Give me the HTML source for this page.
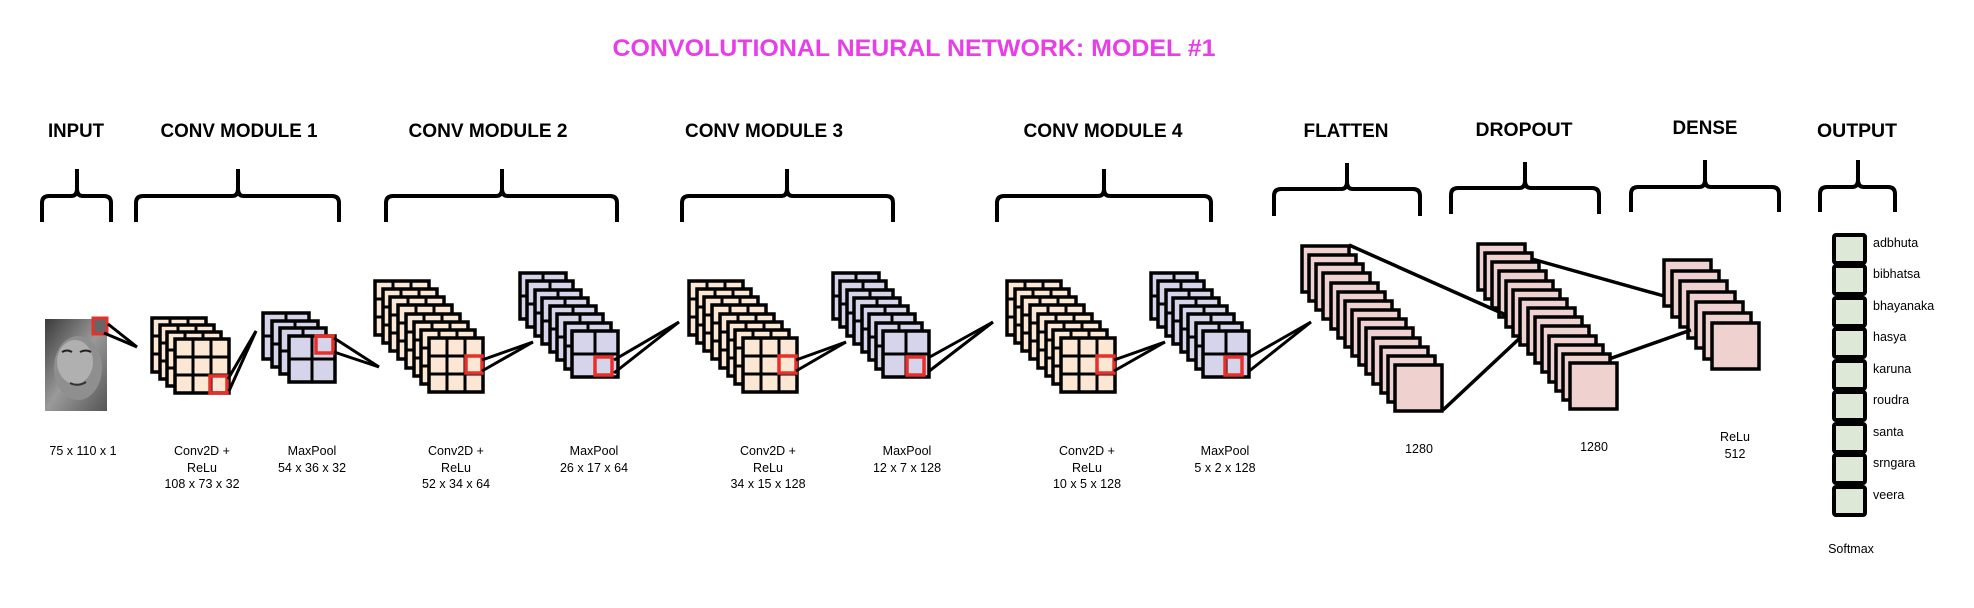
<!DOCTYPE html>
<html><head><meta charset="utf-8"><style>
html,body{margin:0;padding:0;background:#fff;width:1974px;height:608px;overflow:hidden}
svg{display:block}
text{font-family:"Liberation Sans",Arial,sans-serif}
</style></head><body>
<svg width="1974" height="608" viewBox="0 0 1974 608" xmlns="http://www.w3.org/2000/svg">
<defs>
<symbol id="cv" overflow="visible"><rect x="0" y="0" width="54" height="54" fill="#fbe7d3" stroke="#000" stroke-width="3.5"/><path d="M18 0V54M36 0V54M0 18H54M0 36H54" stroke="#000" stroke-width="3"/></symbol>
<symbol id="pl" overflow="visible"><rect x="0" y="0" width="46" height="46" fill="#d6d4ea" stroke="#000" stroke-width="3.5"/><path d="M23 0V46M0 23H46" stroke="#000" stroke-width="3"/></symbol>
<symbol id="pk" overflow="visible"><rect x="0" y="0" width="47" height="46" fill="#efd1d0" stroke="#000" stroke-width="3.5"/></symbol>
<symbol id="gr" overflow="visible"><rect x="0" y="0" width="31" height="28" rx="2" fill="#dde8d6" stroke="#000" stroke-width="4"/></symbol>
<linearGradient id="fg" x1="0" y1="0" x2="1" y2="1"><stop offset="0" stop-color="#3a3a3a"/><stop offset="0.5" stop-color="#9a9a9a"/><stop offset="1" stop-color="#555"/></linearGradient>
</defs>

<text x="914" y="56" text-anchor="middle" font-size="24" font-weight="bold" fill="#e83ee8" textLength="603" lengthAdjust="spacingAndGlyphs">CONVOLUTIONAL NEURAL NETWORK: MODEL  #1</text>

<g font-size="19" font-weight="bold" fill="#000" text-anchor="middle">
<text x="76" y="137" textLength="56" lengthAdjust="spacingAndGlyphs">INPUT</text>
<text x="239" y="137" textLength="157" lengthAdjust="spacingAndGlyphs">CONV MODULE 1</text>
<text x="488" y="137" textLength="159" lengthAdjust="spacingAndGlyphs">CONV MODULE 2</text>
<text x="764" y="137" textLength="158" lengthAdjust="spacingAndGlyphs">CONV MODULE 3</text>
<text x="1103" y="137" textLength="159" lengthAdjust="spacingAndGlyphs">CONV MODULE 4</text>
<text x="1346" y="137" textLength="85" lengthAdjust="spacingAndGlyphs">FLATTEN</text>
<text x="1524" y="136" textLength="97" lengthAdjust="spacingAndGlyphs">DROPOUT</text>
<text x="1705" y="134" textLength="65" lengthAdjust="spacingAndGlyphs">DENSE</text>
<text x="1857" y="137" textLength="80" lengthAdjust="spacingAndGlyphs">OUTPUT</text>
</g>

<g fill="none" stroke="#000" stroke-width="4">
<path d="M42 222V203Q42 196 49 196H71Q77 196 77 189V169M77 189Q77 196 83 196H104Q111 196 111 203V222"/>
<path d="M136 222V203Q136 196 143 196H232Q238 196 238 189V169M238 189Q238 196 244 196H332Q339 196 339 203V222"/>
<path d="M386 222V203Q386 196 393 196H496Q502 196 502 189V169M502 189Q502 196 508 196H610Q617 196 617 203V222"/>
<path d="M682 222V203Q682 196 689 196H781Q787 196 787 189V169M787 189Q787 196 793 196H886Q893 196 893 203V222"/>
<path d="M997 222V203Q997 196 1004 196H1098Q1104 196 1104 189V169M1104 189Q1104 196 1110 196H1204Q1211 196 1211 203V222"/>
<path d="M1274 216V196Q1274 189 1281 189H1341Q1347 189 1347 182V163M1347 182Q1347 189 1353 189H1413Q1420 189 1420 196V216"/>
<path d="M1451 214V195Q1451 188 1458 188H1519Q1525 188 1525 181V162M1525 181Q1525 188 1531 188H1592Q1599 188 1599 195V214"/>
<path d="M1631 212V194Q1631 187 1638 187H1699Q1705 187 1705 180V160M1705 180Q1705 187 1711 187H1772Q1779 187 1779 194V212"/>
<path d="M1820 212V194Q1820 187 1827 187H1852Q1858 187 1858 180V160M1858 180Q1858 187 1864 187H1888Q1895 187 1895 194V212"/>
</g>

<!-- face -->
<rect x="45" y="319" width="62" height="92" fill="url(#fg)"/>
<ellipse cx="78" cy="368" rx="24" ry="32" fill="#8f8f8f"/>
<ellipse cx="75" cy="362" rx="18" ry="22" fill="#b0b0b0"/>
<path d="M62 352Q67 349 72 352M80 352Q86 349 91 352" stroke="#222" stroke-width="2" fill="none"/>
<path d="M70 383Q78 387 86 382" stroke="#333" stroke-width="2" fill="none"/>
<rect x="93" y="318" width="14" height="16" fill="#666" stroke="#e8302a" stroke-width="3"/>
<g stroke="#000" stroke-width="3"><line x1="108" y1="324" x2="137" y2="347"/><line x1="104" y1="333" x2="137" y2="347"/></g>

<!-- conv1 -->
<use href="#cv" x="152" y="318"/><use href="#cv" x="160" y="325"/><use href="#cv" x="167" y="332"/><use href="#cv" x="175" y="339"/>
<rect x="210" y="376" width="17" height="17" fill="none" stroke="#e8302a" stroke-width="3.5"/>
<g stroke="#000" stroke-width="3"><line x1="228" y1="379" x2="256" y2="331"/><line x1="229" y1="391" x2="256" y2="331"/></g>

<!-- pool1 -->
<use href="#pl" x="263" y="313"/><use href="#pl" x="272" y="321"/><use href="#pl" x="280" y="328"/><use href="#pl" x="289" y="336"/>
<rect x="316" y="336" width="17" height="17" fill="none" stroke="#e8302a" stroke-width="3.5"/>
<g stroke="#000" stroke-width="3"><line x1="334" y1="338" x2="379" y2="367"/><line x1="334" y1="352" x2="379" y2="367"/></g>

<!-- conv2 -->
<use href="#cv" x="375" y="281"/><use href="#cv" x="383" y="289"/><use href="#cv" x="390" y="297"/><use href="#cv" x="398" y="305"/><use href="#cv" x="406" y="314"/><use href="#cv" x="414" y="322"/><use href="#cv" x="421" y="330"/><use href="#cv" x="429" y="338"/>
<rect x="466" y="356" width="16" height="17" fill="none" stroke="#e8302a" stroke-width="3.5"/>
<g stroke="#000" stroke-width="3"><line x1="482" y1="360" x2="533" y2="342"/><line x1="482" y1="371" x2="533" y2="342"/></g>

<!-- pool2 -->
<use href="#pl" x="520" y="273"/><use href="#pl" x="527" y="281"/><use href="#pl" x="535" y="290"/><use href="#pl" x="542" y="298"/><use href="#pl" x="550" y="306"/><use href="#pl" x="557" y="314"/><use href="#pl" x="565" y="323"/><use href="#pl" x="572" y="331"/>
<rect x="595" y="357" width="17" height="18" fill="none" stroke="#e8302a" stroke-width="3.5"/>
<g stroke="#000" stroke-width="3"><line x1="614" y1="360" x2="679" y2="322"/><line x1="614" y1="373" x2="679" y2="322"/></g>

<!-- conv3 -->
<use href="#cv" x="689" y="281"/><use href="#cv" x="697" y="289"/><use href="#cv" x="704" y="297"/><use href="#cv" x="712" y="305"/><use href="#cv" x="720" y="314"/><use href="#cv" x="728" y="322"/><use href="#cv" x="735" y="330"/><use href="#cv" x="743" y="338"/>
<rect x="779" y="356" width="17" height="17" fill="none" stroke="#e8302a" stroke-width="3.5"/>
<g stroke="#000" stroke-width="3"><line x1="796" y1="360" x2="846" y2="342"/><line x1="796" y1="371" x2="846" y2="342"/></g>

<!-- pool3 -->
<use href="#pl" x="833" y="273"/><use href="#pl" x="840" y="281"/><use href="#pl" x="847" y="290"/><use href="#pl" x="854" y="298"/><use href="#pl" x="862" y="306"/><use href="#pl" x="869" y="314"/><use href="#pl" x="876" y="323"/><use href="#pl" x="883" y="331"/>
<rect x="907" y="357" width="17" height="18" fill="none" stroke="#e8302a" stroke-width="3.5"/>
<g stroke="#000" stroke-width="3"><line x1="928" y1="358" x2="993" y2="322"/><line x1="928" y1="372" x2="993" y2="322"/></g>

<!-- conv4 -->
<use href="#cv" x="1007" y="281"/><use href="#cv" x="1015" y="289"/><use href="#cv" x="1022" y="297"/><use href="#cv" x="1030" y="305"/><use href="#cv" x="1038" y="314"/><use href="#cv" x="1046" y="322"/><use href="#cv" x="1053" y="330"/><use href="#cv" x="1061" y="338"/>
<rect x="1097" y="356" width="17" height="17" fill="none" stroke="#e8302a" stroke-width="3.5"/>
<g stroke="#000" stroke-width="3"><line x1="1114" y1="360" x2="1165" y2="342"/><line x1="1114" y1="371" x2="1165" y2="342"/></g>

<!-- pool4 -->
<use href="#pl" x="1151" y="273"/><use href="#pl" x="1158" y="281"/><use href="#pl" x="1166" y="290"/><use href="#pl" x="1173" y="298"/><use href="#pl" x="1181" y="306"/><use href="#pl" x="1188" y="314"/><use href="#pl" x="1196" y="323"/><use href="#pl" x="1203" y="331"/>
<rect x="1225" y="357" width="17" height="18" fill="none" stroke="#e8302a" stroke-width="3.5"/>
<g stroke="#000" stroke-width="3"><line x1="1248" y1="358" x2="1311" y2="322"/><line x1="1248" y1="372" x2="1311" y2="322"/></g>

<!-- flatten -->
<use href="#pk" x="1302" y="246"/><use href="#pk" x="1309" y="255"/><use href="#pk" x="1316" y="264"/><use href="#pk" x="1323" y="273"/><use href="#pk" x="1331" y="283"/><use href="#pk" x="1338" y="292"/><use href="#pk" x="1345" y="301"/><use href="#pk" x="1352" y="310"/><use href="#pk" x="1359" y="319"/><use href="#pk" x="1366" y="328"/><use href="#pk" x="1373" y="338"/><use href="#pk" x="1381" y="347"/><use href="#pk" x="1388" y="356"/><use href="#pk" x="1395" y="365"/>

<!-- dropout -->
<use href="#pk" x="1478" y="244"/><use href="#pk" x="1485" y="253"/><use href="#pk" x="1492" y="262"/><use href="#pk" x="1499" y="271"/><use href="#pk" x="1506" y="281"/><use href="#pk" x="1513" y="290"/><use href="#pk" x="1520" y="299"/><use href="#pk" x="1528" y="308"/><use href="#pk" x="1535" y="317"/><use href="#pk" x="1542" y="326"/><use href="#pk" x="1549" y="336"/><use href="#pk" x="1556" y="345"/><use href="#pk" x="1563" y="354"/><use href="#pk" x="1570" y="363"/>

<!-- dense -->
<use href="#pk" x="1664" y="260"/><use href="#pk" x="1672" y="271"/><use href="#pk" x="1680" y="281"/><use href="#pk" x="1688" y="292"/><use href="#pk" x="1696" y="302"/><use href="#pk" x="1704" y="313"/><use href="#pk" x="1712" y="323"/>

<g stroke="#000" stroke-width="3.5">
<line x1="1349" y1="245" x2="1506" y2="315"/>
<line x1="1443" y1="410" x2="1521" y2="337"/>
<line x1="1532" y1="259" x2="1664" y2="296"/>
<line x1="1609" y1="359" x2="1691" y2="330"/>
</g>

<!-- output -->
<use href="#gr" x="1834" y="235"/><use href="#gr" x="1834" y="266"/><use href="#gr" x="1834" y="298"/><use href="#gr" x="1834" y="329"/><use href="#gr" x="1834" y="361"/><use href="#gr" x="1834" y="392"/><use href="#gr" x="1834" y="424"/><use href="#gr" x="1834" y="455"/><use href="#gr" x="1834" y="487"/>
<g font-size="12.5" fill="#000">
<text x="1873" y="247">adbhuta</text>
<text x="1873" y="278">bibhatsa</text>
<text x="1873" y="310">bhayanaka</text>
<text x="1873" y="341">hasya</text>
<text x="1873" y="373">karuna</text>
<text x="1873" y="404">roudra</text>
<text x="1873" y="436">santa</text>
<text x="1873" y="467">srngara</text>
<text x="1873" y="499">veera</text>
</g>

<g font-size="12.5" fill="#000" text-anchor="middle">
<text x="83" y="455">75 x 110 x 1</text>
<text x="202" y="455">Conv2D +</text><text x="202" y="472">ReLu</text><text x="202" y="488">108 x 73 x 32</text>
<text x="312" y="455">MaxPool</text><text x="312" y="472">54 x 36 x 32</text>
<text x="456" y="455">Conv2D +</text><text x="456" y="472">ReLu</text><text x="456" y="488">52 x 34 x 64</text>
<text x="594" y="455">MaxPool</text><text x="594" y="472">26 x 17 x 64</text>
<text x="768" y="455">Conv2D +</text><text x="768" y="472">ReLu</text><text x="768" y="488">34 x 15 x 128</text>
<text x="907" y="455">MaxPool</text><text x="907" y="472">12 x 7 x 128</text>
<text x="1087" y="455">Conv2D +</text><text x="1087" y="472">ReLu</text><text x="1087" y="488">10 x 5 x 128</text>
<text x="1225" y="455">MaxPool</text><text x="1225" y="472">5 x 2 x 128</text>
<text x="1419" y="453">1280</text>
<text x="1594" y="451">1280</text>
<text x="1735" y="441">ReLu</text><text x="1735" y="458">512</text>
<text x="1851" y="553">Softmax</text>
</g>
</svg>
</body></html>
